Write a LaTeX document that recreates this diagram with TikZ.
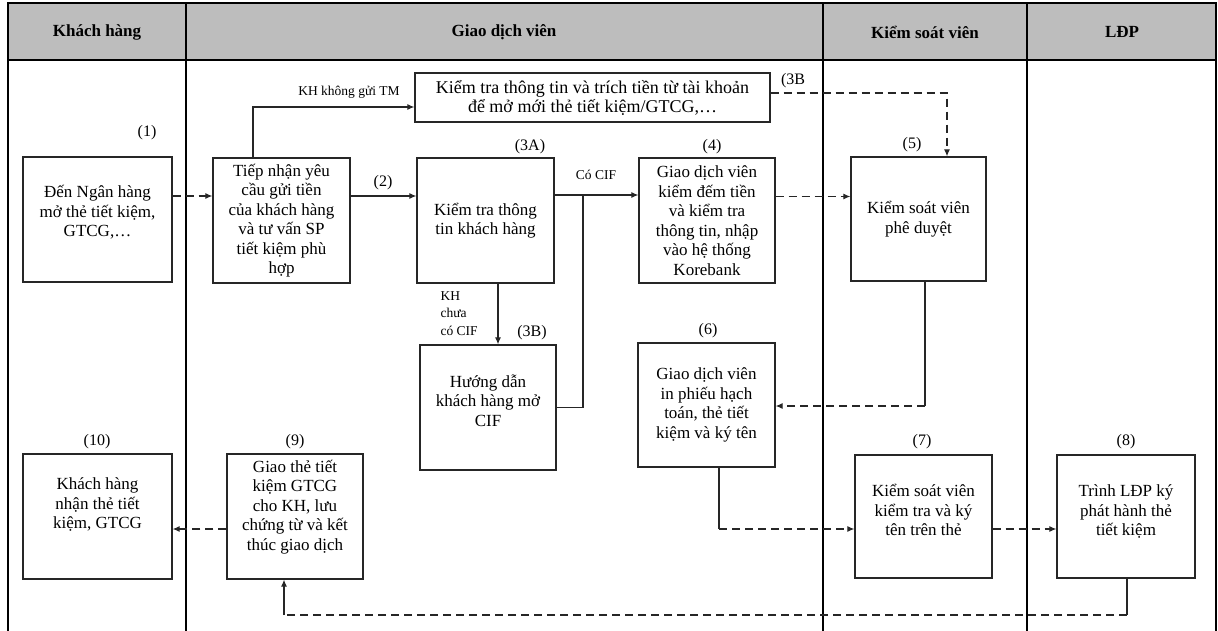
\documentclass[tikz,border=0pt]{standalone}
\usepackage{fontspec}
\setmainfont{Liberation Serif}
\usetikzlibrary{arrows.meta}
\tikzset{
  stepbox/.style={draw=black!85, line width=1.3pt, align=center, inner sep=2pt,
    font=\fontsize{17}{19.5}\selectfont},
  steptag/.style={font=\fontsize{16}{18}\selectfont},
  lanehead/.style={font=\fontsize{17}{19}\selectfont\bfseries},
  smalltag/.style={font=\fontsize{13.5}{17.5}\selectfont},
  flow/.style={line width=1.1pt, draw=black!85},
  dflow/.style={flow, dash pattern=on 8pt off 5pt},
  tip/.style={-{Latex[length=7pt,width=6pt]}}
}
\begin{document}
\begin{tikzpicture}[x=1pt,y=-1pt]
      \useasboundingbox (0,0) rectangle (1218,631);
      \fill[black!26] (8,3) rectangle (1216,60);
      \draw[line width=1.3pt] (8,631) -- (8,3) -- (1216,3) -- (1216,631);
      \draw[line width=1.3pt] (8,60) -- (1216,60);
      \foreach \x in {186,823,1027}
         \draw[line width=1.3pt] (\x,3) -- (\x,631);

      \node[lanehead, name=hkh] at (97,32) {Khách hàng};
      \node[lanehead, name=hgd] at (504,32) {Giao dịch viên};
      \node[lanehead, name=hks] at (925,32) {Kiểm soát viên};
      \node[lanehead, name=hld] at (1122,32) {LĐP};

      \node[stepbox, name=kh1, minimum width=149pt, minimum height=125pt] at (97.5,219.5)
         {Đến Ngân hàng\\mở thẻ tiết kiệm,\\GTCG,…\\[-3pt]};
      \node[stepbox, name=gd2, minimum width=137pt, minimum height=125pt] at (281.5,220.5)
         {Tiếp nhận yêu\\cầu gửi tiền\\của khách hàng\\và tư vấn SP\\tiết kiệm phù\\hợp};
      \node[stepbox, name=gd3t, minimum width=355pt, minimum height=49pt,
            font=\fontsize{18}{19}\selectfont] at (592.5,97.5)
         {Kiểm tra thông tin và trích tiền từ tài khoản\\để mở mới thẻ tiết kiệm/GTCG,…};
      \node[stepbox, name=gd3a, minimum width=137pt, minimum height=125pt] at (485.5,220.5)
         {Kiểm tra thông\\tin khách hàng};
      \node[stepbox, name=gd4, minimum width=136pt, minimum height=125pt] at (707,220.5)
         {Giao dịch viên\\kiểm đếm tiền\\và kiểm tra\\thông tin, nhập\\vào hệ thống\\Korebank};
      \node[stepbox, name=ks5, minimum width=135pt, minimum height=124pt] at (918.5,219)
         {Kiểm soát viên\\phê duyệt};
      \node[stepbox, name=gd3b, minimum width=136pt, minimum height=125pt] at (488,407.5)
         {Hướng dẫn\\khách hàng mở\\CIF\\[-5pt]};
      \node[stepbox, name=gd6, minimum width=137pt, minimum height=124pt] at (706.5,405)
         {Giao dịch viên\\in phiếu hạch\\toán, thẻ tiết\\kiệm và ký tên};
      \node[stepbox, name=kh10, minimum width=149pt, minimum height=125pt] at (97.5,516.5)
         {Khách hàng\\nhận thẻ tiết\\kiệm, GTCG\\[7pt]};
      \node[stepbox, name=gd9, minimum width=136pt, minimum height=125pt] at (295,516.5)
         {Giao thẻ tiết\\kiệm GTCG\\cho KH, lưu\\chứng từ và kết\\thúc giao dịch\\[3pt]};
      \node[stepbox, name=ks7, minimum width=137pt, minimum height=123pt] at (923.5,516.5)
         {Kiểm soát viên\\kiểm tra và ký\\tên trên thẻ\\[-7pt]};
      \node[stepbox, name=ld8, minimum width=138pt, minimum height=123pt] at (1126,516.5)
         {Trình LĐP ký\\phát hành thẻ\\tiết kiệm\\[-7pt]};

      \node[steptag, name=t1] at (147,133) {(1)};
      \node[steptag, name=t2] at (383,183) {(2)};
      \node[steptag, name=t3a] at (530,147) {(3A)};
      \node[steptag, name=t3t] at (793,81) {(3B};
      \node[steptag, name=t4] at (712,147) {(4)};
      \node[steptag, name=t5] at (912,145) {(5)};
      \node[steptag, name=t3b] at (532,333) {(3B)};
      \node[steptag, name=t6] at (708,331) {(6)};
      \node[steptag, name=t10] at (97,442) {(10)};
      \node[steptag, name=t9] at (295,442) {(9)};
      \node[steptag, name=t7] at (922,442) {(7)};
      \node[steptag, name=t8] at (1126,442) {(8)};

      \node[smalltag, name=notm] at (349,92) {KH không gửi TM};
      \node[smalltag, name=cocif] at (596,175) {Có CIF};
      \node[smalltag, name=nocif, align=left, anchor=north west] at (437,288) {KH\\chưa\\có CIF};

      \coordinate (cifj) at (583,195);
      \coordinate (apprj) at (925,406);
      \coordinate (printj) at (719,529);
      \coordinate (signj) at (1127,615);
      \coordinate (backj) at (284,615);

      \draw[dflow,tip] ([yshift=23.5pt]kh1.east) -- ([yshift=23.5pt]kh1.east -| gd2.west);
      \draw[flow,tip] ([yshift=24.5pt]gd2.east) -- ([yshift=24.5pt]gd2.east -| gd3a.west);
      \draw[flow,tip] ([xshift=-28.5pt]gd2.north) |- ([yshift=-9.5pt]gd3t.west);
      \draw[flow,tip] ([yshift=25.5pt]gd3a.east) -- ([yshift=25.5pt]gd3a.east -| gd4.west);
      \draw[flow,tip] ([xshift=12.5pt]gd3a.south) -- ([xshift=12.5pt]gd3a.south |- gd3b.north);
      \draw[flow] (cifj) |- (gd3b.east);
      \draw[dflow,tip] ([yshift=4.5pt]gd3t.east) -| ([xshift=28.5pt]ks5.north);
      \draw[dflow,tip] ([yshift=24pt]gd4.east) -- ([yshift=24pt]gd4.east -| ks5.west);
      \draw[flow] (ks5.south -| apprj) -- (apprj);
      \draw[dflow,tip] (apprj) -- (apprj -| gd6.east);
      \draw[flow] (gd6.south -| printj) -- (printj);
      \draw[dflow,tip] (printj) -- (printj -| ks7.west);
      \draw[dflow,tip] ([yshift=-12.5pt]ks7.east) -- ([yshift=-12.5pt]ks7.east -| ld8.west);
      \draw[flow] (ld8.south -| signj) -- (signj);
      \draw[dflow] (signj) -- (backj);
      \draw[flow,tip] (backj) -- (backj |- gd9.south);
      \draw[dflow,tip] ([yshift=-12.5pt]gd9.west) -- ([yshift=-12.5pt]gd9.west -| kh10.east);
   \end{tikzpicture}
\end{document}
